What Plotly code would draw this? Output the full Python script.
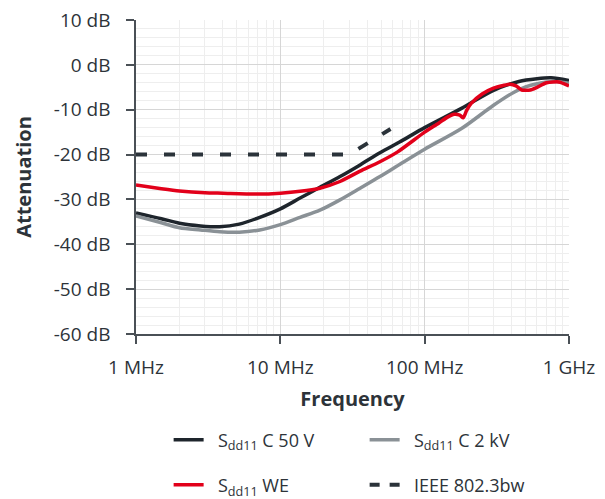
import plotly.graph_objects as go

# ---- data (frequency in MHz, attenuation in dB) ----
c50_freq = [1, 1.5, 2, 2.8, 3.8, 5.2, 7.2, 10, 13.7, 18.8, 25.9, 35.7, 49, 67, 100, 180, 300, 450, 600, 750, 1000]
c50_db = [-33.0, -34.3, -35.3, -35.9, -36.1, -35.5, -34.0, -32.1, -29.7, -27.3, -24.9, -22.3, -19.6, -17.2, -14.0, -9.7, -5.7, -3.7, -3.1, -2.9, -3.5]

c2k_freq = [1, 1.5, 2, 2.8, 3.8, 5.2, 7.2, 10, 13.7, 18.8, 25.9, 35.7, 49, 67, 100, 180, 300, 410, 500, 600, 780, 1000]
c2k_db = [-33.7, -35.2, -36.3, -36.8, -37.2, -37.3, -36.8, -35.6, -34.0, -32.4, -30.1, -27.5, -24.9, -22.2, -18.8, -14.2, -9.0, -6.2, -4.9, -4.2, -3.7, -4.1]

we_freq = [1, 1.5, 2, 3, 4, 7, 10, 13.7, 18.8, 25.9, 35.7, 49, 65, 100, 125, 145, 160, 175, 185, 195, 210, 250, 300, 350, 390, 430, 470, 540, 600, 700, 850, 1000]
we_db = [-26.8, -27.6, -28.1, -28.5, -28.6, -28.8, -28.6, -28.2, -27.5, -26.0, -23.7, -21.6, -19.4, -15.0, -13.0, -11.6, -11.0, -11.2, -11.8, -10.2, -8.6, -6.5, -5.2, -4.6, -4.3, -4.7, -5.6, -5.6, -5.0, -4.0, -3.8, -4.7]

ieee_freq = [1, 30, 58]
ieee_db = [-20, -20, -14.3]

x_tickvals = [1, 10, 100, 1000]
x_ticktext = ["1 MHz", "10 MHz", "100 MHz", "1 GHz"]
y_tickvals = [10, 0, -10, -20, -30, -40, -50, -60]
y_ticktext = ["10 dB", "0 dB", "-10 dB", "-20 dB", "-30 dB", "-40 dB", "-50 dB", "-60 dB"]

FONT = "Open Sans, Noto Sans, sans-serif"
TXT = "#2d3339"
pad = "\u00a0\u00a0"

fig = go.Figure()
fig.add_trace(go.Scatter(x=c50_freq, y=c50_db, mode="lines", name=pad + "S<sub>dd11</sub> C 50 V",
                         line=dict(color="#1e252c", width=3.5, shape="spline", smoothing=0.8), legend="legend"))
fig.add_trace(go.Scatter(x=c2k_freq, y=c2k_db, mode="lines", name=pad + "S<sub>dd11</sub> C 2 kV",
                         line=dict(color="#8a9196", width=3.5, shape="spline", smoothing=0.8), legend="legend"))
fig.add_trace(go.Scatter(x=we_freq, y=we_db, mode="lines", name=pad + "S<sub>dd11</sub> WE",
                         line=dict(color="#e2001a", width=3.5, shape="spline", smoothing=0.6), legend="legend2"))
fig.add_trace(go.Scatter(x=ieee_freq, y=ieee_db, mode="lines", name="IEEE 802.3bw", showlegend=False,
                         line=dict(color="#2b333a", width=4, dash="11px,17px")))
# legend entry for the limit line (shorter dash so two dashes show in the key)
fig.add_trace(go.Scatter(x=[None], y=[None], mode="lines", name=pad + "IEEE 802.3bw",
                         line=dict(color="#2b333a", width=4, dash="10px,10px"), legend="legend2"))

W, H = 605, 499
fig.update_layout(
    width=W, height=H,
    margin=dict(l=128, r=44, t=12, b=173, autoexpand=False),
    paper_bgcolor="white", plot_bgcolor="white",
    font=dict(family=FONT, size=19, color=TXT),
    showlegend=True,
    legend=dict(orientation="h", xref="container", yref="container", x=0.2655, xanchor="left",
                y=0.1343, yanchor="middle", entrywidth=151,
                font=dict(family=FONT, size=18, color=TXT), bgcolor="rgba(0,0,0,0)"),
    legend2=dict(orientation="h", xref="container", yref="container", x=0.2655, xanchor="left",
                 y=0.0441, yanchor="middle", entrywidth=151,
                 font=dict(family=FONT, size=18, color=TXT), bgcolor="rgba(0,0,0,0)"),
)

fig.update_xaxes(
    type="log", range=[0, 3], automargin=False, ticklabeloverflow="allow",
    tickvals=x_tickvals, ticktext=x_ticktext,
    ticks="outside", ticklen=8, tickwidth=1.5, tickcolor="#4a5056",
    showline=True, linecolor="#4a5056", linewidth=1.5,
    showgrid=True, gridcolor="#d6d6d6", gridwidth=1,
    minor=dict(dtick="D1", showgrid=True, gridcolor="#eeeeee", gridwidth=1, ticks=""),
    ticklabelstandoff=7, tickfont=dict(family=FONT, size=19, color=TXT),
    title=dict(text="<b>Frequency</b>", font=dict(family=FONT, size=20, color=TXT), standoff=13),
    zeroline=False,
)
fig.update_yaxes(
    range=[-60, 10], automargin=False, ticklabeloverflow="allow",
    tickvals=y_tickvals, ticktext=y_ticktext,
    ticks="outside", ticklen=8, tickwidth=1.5, tickcolor="#4a5056",
    showline=True, linecolor="#4a5056", linewidth=1.5,
    showgrid=True, gridcolor="#d6d6d6", gridwidth=1,
    minor=dict(dtick=2, showgrid=True, gridcolor="#eeeeee", gridwidth=1, ticks=""),
    ticklabelstandoff=12, tickfont=dict(family=FONT, size=19, color=TXT),
    title=dict(text="<b>Attenuation</b>", font=dict(family=FONT, size=20, color=TXT), standoff=17),
    zeroline=False,
)

fig.write_html("out.html")
